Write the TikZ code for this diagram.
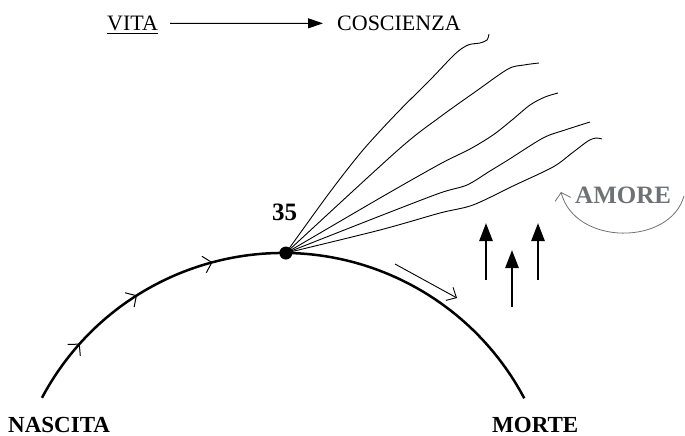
\documentclass[tikz,border=0pt]{standalone}
\usepackage{fontspec}
\setmainfont{Liberation Serif}
\usetikzlibrary{arrows.meta,decorations.markings}
\definecolor{amoregray}{RGB}{112,113,117}
\tikzset{archead/.tip={Straight Barb[length=8pt,width=17pt,line width=1pt]}}

\begin{document}
\begin{tikzpicture}[x=1pt,y=-1pt,
  title/.style={anchor=base west, inner sep=0pt, font=\fontsize{22}{26}\selectfont},
  label/.style={anchor=base west, inner sep=0pt, font=\fontsize{23}{27}\selectfont\bfseries},
  strand/.style={line width=0.9pt, line join=round},
  lifeline/.style={line width=2.5pt},
  push/.style={line width=2.6pt, -{Triangle[length=18pt,width=13pt]}},
  openhead/.style={-{Straight Barb[length=8pt,width=15pt,line width=0.9pt]}}
]
\useasboundingbox (0,0) rectangle (685,436);

% heading
\node[title] (vita) at (107,30.5) {VITA};
\node[title] (cosc) at (337,30.5) {COSCIENZA};
\draw[line width=0.9pt] ([yshift=-2.7pt]vita.base west) -- ([yshift=-2.7pt]vita.base east);
\draw[line width=1.1pt, -{Triangle[length=15pt,width=10pt]}]
  ([xshift=12pt]vita.east) -- ([xshift=-14pt]cosc.west);

% life arc
\coordinate (c) at (283,526);
\coordinate (birth) at ([shift={(208:273)}]c);
\coordinate (death) at ([shift={(332.1:273)}]c);
\draw[lifeline, postaction={decorate}, decoration={markings,
    mark=at position 0.112 with {\arrow{archead}},
    mark=at position 0.239 with {\arrow{archead}},
    mark=at position 0.379 with {\arrow{archead}}}]
  (birth) arc[start angle=208, end angle=332.1, radius=273];

\node[circle, fill=black, inner sep=0pt, minimum size=13pt] (top) at ([shift={(270.6:273)}]c) {};
\node[label, font=\fontsize{25}{29}\selectfont\bfseries] (age) at (272,220) {35};

% strands of consciousness
\coordinate (f1) at (489,34);
\coordinate (f2) at (539,63);
\coordinate (f3) at (558,93);
\coordinate (f4) at (590,122);
\coordinate (f5) at (602,139);
\draw[strand] plot[smooth, tension=0.5] coordinates
  {(top.center) (330,192) (363,150) (397,113) (430,80) (455,54) (468,45) (480,43) (487,40) (f1)};
\draw[strand] plot[smooth, tension=0.5] coordinates
  {(top.center) (398,150) (440,117) (475,92) (508,69) (524,65) (f2)};
\draw[strand] plot[smooth, tension=0.5] coordinates
  {(top.center) (380,198) (440,164) (470,149) (493,135) (512,120) (530,105) (545,97) (f3)};
\draw[strand] plot[smooth, tension=0.5] coordinates
  {(top.center) (380,216) (440,193) (467,185) (490,171) (508,160) (543,138) (565,130) (f4)};
\draw[strand] plot[smooth, tension=0.5] coordinates
  {(top.center) (380,230) (440,213) (473,205) (513,186) (553,167) (572,153) (588,141) (596,138) (f5)};

% decline arrow
\coordinate (d1) at (395,264);
\coordinate (d2) at (457,298);
\draw[line width=0.9pt, openhead] (d1) -- (d2);

% rising arrows
\coordinate (u1s) at (486,280); \coordinate (u1e) at (486,223);
\coordinate (u2s) at (512,307); \coordinate (u2e) at (512,250);
\coordinate (u3s) at (538,280); \coordinate (u3e) at (538,223);
\draw[push] (u1s) -- (u1e);
\draw[push] (u2s) -- (u2e);
\draw[push] (u3s) -- (u3e);

% love
\node[label, text=amoregray, font=\fontsize{25}{29}\selectfont\bfseries] (amore) at (575,203) {AMORE};
\coordinate (a1) at (684,196);
\coordinate (a2) at (561,192);
\draw[amoregray, line width=0.8pt, -{Straight Barb[length=7pt,width=16pt,line width=0.8pt]}]
  (a1) .. controls (670,246) and (575,246) .. (a2);

% end labels
\node[label] (nascita) at (8,432.5) {NASCITA};
\node[label] (morte) at (492,432.5) {MORTE};
\end{tikzpicture}
\end{document}
